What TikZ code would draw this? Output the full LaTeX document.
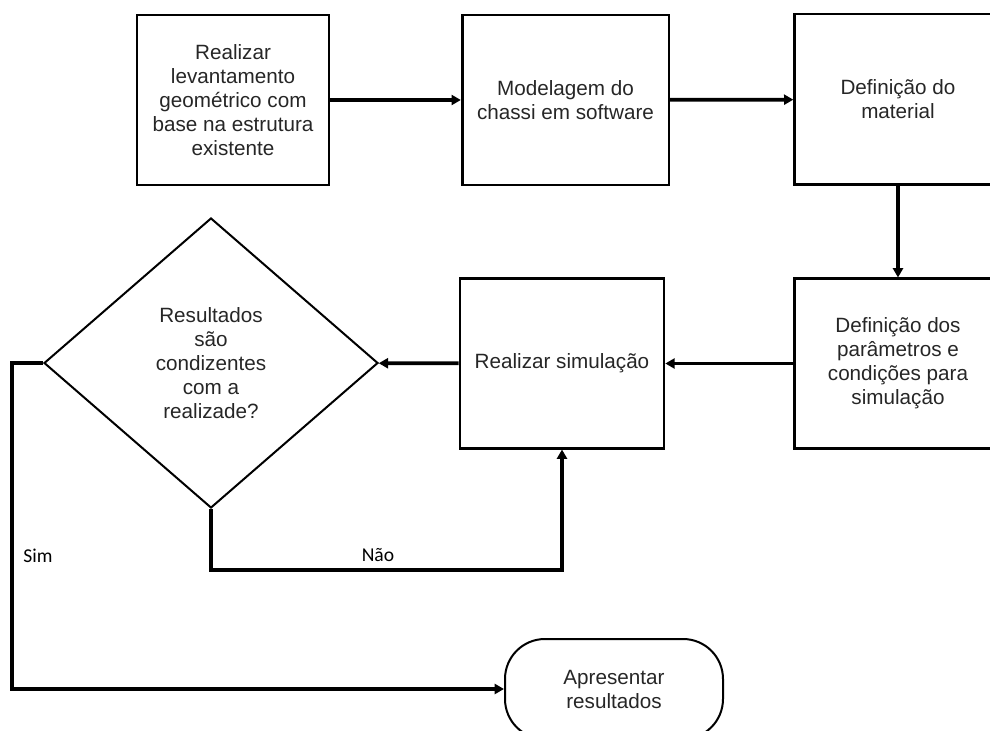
\documentclass[tikz,border=0pt]{standalone}
\usepackage{fontspec}
\setmainfont{Liberation Sans}
\newfontfamily\labelfont{Carlito}
\usetikzlibrary{shapes,arrows.meta,positioning}

\begin{document}
\begin{tikzpicture}[
    x=0.75pt, y=-0.75pt,
    every node/.style={text=black!85, font=\fontsize{15.5}{18}\selectfont},
    procbox/.style={rectangle, draw=black, line width=2pt, align=center, inner sep=2pt},
    decision/.style={diamond, draw=black, line width=1.5pt, align=center, inner sep=0pt, minimum width=250.5pt, minimum height=217.5pt},
    terminal/.style={rectangle, rounded corners=30pt, draw=black, line width=1.5pt, align=center, minimum width=163.5pt, minimum height=75pt},
    arrow/.style={-{Triangle[length=7pt,width=7.5pt]}, line width=2.8pt},
    answer/.style={text=black, font=\labelfont\fontsize{14.7}{17}\selectfont}
]

\path[use as bounding box, clip] (0,0) rectangle (990,731);

\node[procbox, minimum width=144pt, minimum height=127.5pt] (survey) at (233,100) {Realizar\\levantamento\\geométrico com\\base na estrutura\\existente};
\node[procbox, minimum width=155pt, minimum height=127.5pt] (model) at (565.5,100) {Modelagem do\\chassi em software};
\node[procbox, minimum width=155pt, minimum height=128pt] (material) at (898,99.5) {Definição do\\material};
\node[procbox, minimum width=155pt, minimum height=127pt] (params) at (898,363.5) {Definição dos\\parâmetros e\\condições para\\simulação};
\node[procbox, minimum width=153pt, minimum height=127pt] (simul) at (562,363.5) {Realizar simulação};
\node[decision] (check) at (211,363) {Resultados\\são\\condizentes\\com a\\realizade?};
\node[terminal] (result) at (614,689) {Apresentar\\resultados};

\draw[arrow] (survey) -- (model);
\draw[arrow] (model) -- (material);
\draw[arrow] (material) -- (params);
\draw[arrow] (params) -- (simul);
\draw[arrow] (simul) -- (check);
\draw[arrow] (check.south) -- ++(0,61) -| (simul.south);
\draw[arrow] (check.west) -- ++(-31,0) |- (result.west);

\node[answer] (nao) at (378,555) {Não};
\node[answer] (sim) at (38,556) {Sim};

\end{tikzpicture}
\end{document}
